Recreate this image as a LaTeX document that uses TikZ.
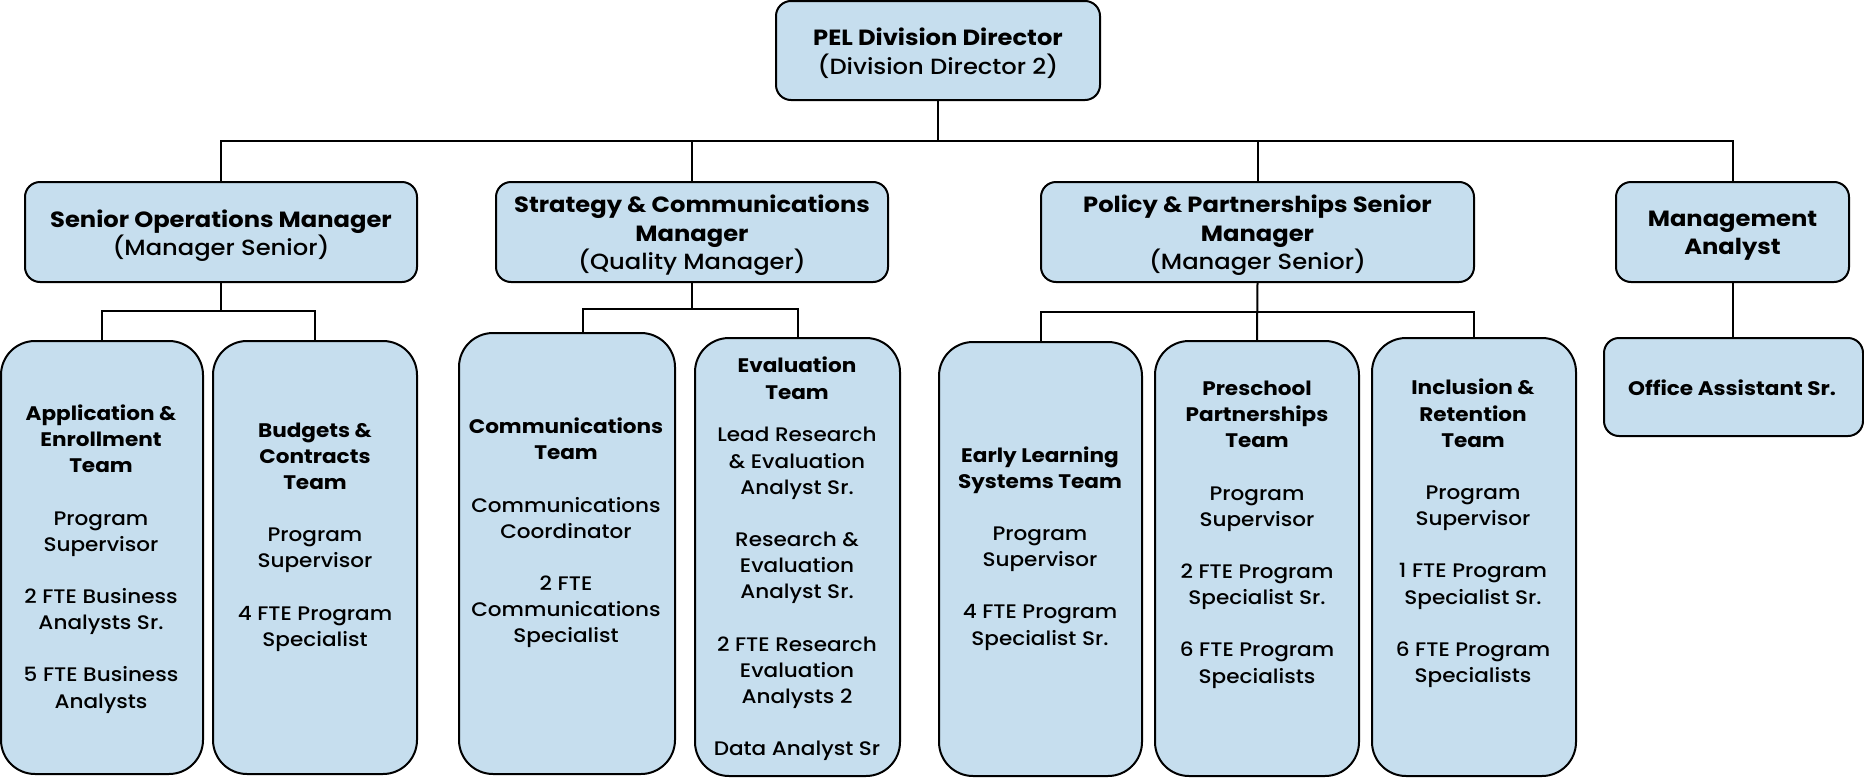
\documentclass[tikz,border=0pt]{standalone}
\usepackage{fontspec}
\setmainfont{Poppins Medium}[FakeStretch=1.1, BoldFont={Poppins Bold}, BoldFeatures={FakeStretch=1.1}]
\definecolor{boxfill}{HTML}{C6DEEE}
\begin{document}
\begin{tikzpicture}[x=0.5pt,y=-0.5pt,
  upbox/.style={draw=black, line width=1pt, fill=boxfill, rounded corners=7.5pt, inner sep=0pt},
  teambox/.style={draw=black, line width=1pt, fill=boxfill, rounded corners=17pt, inner sep=0pt},
  conn/.style={draw=black, line width=1pt},
  uptext/.style={align=center, inner sep=0pt, font=\fontsize{11}{14.25}\selectfont},
  teamtext/.style={align=center, inner sep=0pt, font=\fontsize{9.8}{13.1}\selectfont}]
\useasboundingbox (0,0) rectangle (1864,777);

% top level boxes
\node[upbox, minimum width=162pt, minimum height=49.5pt] (dir) at (938,50.5) {};
\node[upbox, minimum width=196pt, minimum height=50pt] (som) at (221,232) {};
\node[upbox, minimum width=196pt, minimum height=50pt] (scm) at (692,232) {};
\node[upbox, minimum width=216.5pt, minimum height=50pt] (ppm) at (1257.5,232) {};
\node[upbox, minimum width=116.5pt, minimum height=50pt] (ma) at (1732.5,232) {};

% team boxes
\node[teambox, minimum width=101pt, minimum height=216.5pt] (app) at (102,557.5) {};
\node[teambox, minimum width=102pt, minimum height=216.5pt] (bud) at (315,557.5) {};
\node[teambox, minimum width=108pt, minimum height=220.5pt] (com) at (567,553.5) {};
\node[teambox, minimum width=102.5pt, minimum height=219pt] (eva) at (797.5,557) {};
\node[teambox, minimum width=101.5pt, minimum height=217pt] (ear) at (1040.5,559) {};
\node[teambox, minimum width=102pt, minimum height=217.5pt] (pre) at (1257,558.5) {};
\node[teambox, minimum width=102pt, minimum height=219pt] (inc) at (1474,557) {};
\node[upbox, minimum width=129.5pt, minimum height=49pt] (off) at (1733.5,387) {};

% texts
\node[uptext] (dirt) at (938,53) {\textbf{PEL Division Director}\\(Division Director 2)};
\node[uptext] (somt) at (221,235.5) {\textbf{Senior Operations Manager}\\(Manager Senior)};
\node[uptext] (scmt) at (692,235.5) {\textbf{Strategy \& Communications}\\\textbf{Manager}\\(Quality Manager)};
\node[uptext] (ppmt) at (1257.5,235.5) {\textbf{Policy \& Partnerships Senior}\\\textbf{Manager}\\(Manager Senior)};
\node[uptext] (mat) at (1732.5,235.5) {\textbf{Management}\\\textbf{Analyst}};

\node[teamtext] (appt) at (101,559) {\textbf{Application \&}\\\textbf{Enrollment}\\\textbf{Team}\\[13pt]Program\\Supervisor\\[13pt]2 FTE Business\\Analysts Sr.\\[13pt]5 FTE Business\\Analysts};
\node[teamtext] (budt) at (315,537) {\textbf{Budgets \&}\\\textbf{Contracts}\\\textbf{Team}\\[13pt]Program\\Supervisor\\[13pt]4 FTE Program\\Specialist};
\node[teamtext] (comt) at (566,533) {\textbf{Communications}\\\textbf{Team}\\[13pt]Communications\\Coordinator\\[13pt]2 FTE\\Communications\\Specialist};
\node[teamtext] (evat) at (797,559) {\textbf{Evaluation}\\\textbf{Team}\\[8.3pt]Lead Research\\\& Evaluation\\Analyst Sr.\\[13pt]Research \&\\Evaluation\\Analyst Sr.\\[13pt]2 FTE Research\\Evaluation\\Analysts 2\\[13pt]Data Analyst Sr};
\node[teamtext] (eart) at (1040,548.3) {\textbf{Early Learning}\\\textbf{Systems Team}\\[13pt]Program\\Supervisor\\[13pt]4 FTE Program\\Specialist Sr.};
\node[teamtext] (pret) at (1257,534.7) {\textbf{Preschool}\\\textbf{Partnerships}\\\textbf{Team}\\[13pt]Program\\Supervisor\\[13pt]2 FTE Program\\Specialist Sr.\\[13pt]6 FTE Program\\Specialists};
\node[teamtext] (inct) at (1473,533.5) {\textbf{Inclusion \&}\\\textbf{Retention}\\\textbf{Team}\\[13pt]Program\\Supervisor\\[13pt]1 FTE Program\\Specialist Sr.\\[13pt]6 FTE Program\\Specialists};
\node[teamtext] (offt) at (1732,388) {\textbf{Office Assistant Sr.}};

% connectors
\coordinate (bus) at (938,141);
\draw[conn] (dir.south) -- (bus);
\draw[conn] (bus) -| (som.north);
\draw[conn] (bus) -| (scm.north);
\draw[conn] (bus) -| (ppm.north);
\draw[conn] (bus) -| (ma.north);

\coordinate (sbus) at (221,311);
\draw[conn] (som.south) -- (sbus);
\draw[conn] (sbus) -| (app.north);
\draw[conn] (sbus) -| (bud.north);

\coordinate (cbus) at (692,309);
\coordinate (comx) at (583,0);
\draw[conn] (scm.south) -- (cbus);
\draw[conn] (cbus) -| (comx |- com.north);
\draw[conn] (cbus) -| (eva.north);

\coordinate (pbus) at (1257.5,312);
\draw[conn] (ppm.south) -- (pre.north);
\draw[conn] (pbus) -| (ear.north);
\draw[conn] (pbus) -| (inc.north);

\draw[conn] (ma.south) -- (ma.south |- off.north);
\end{tikzpicture}
\end{document}
